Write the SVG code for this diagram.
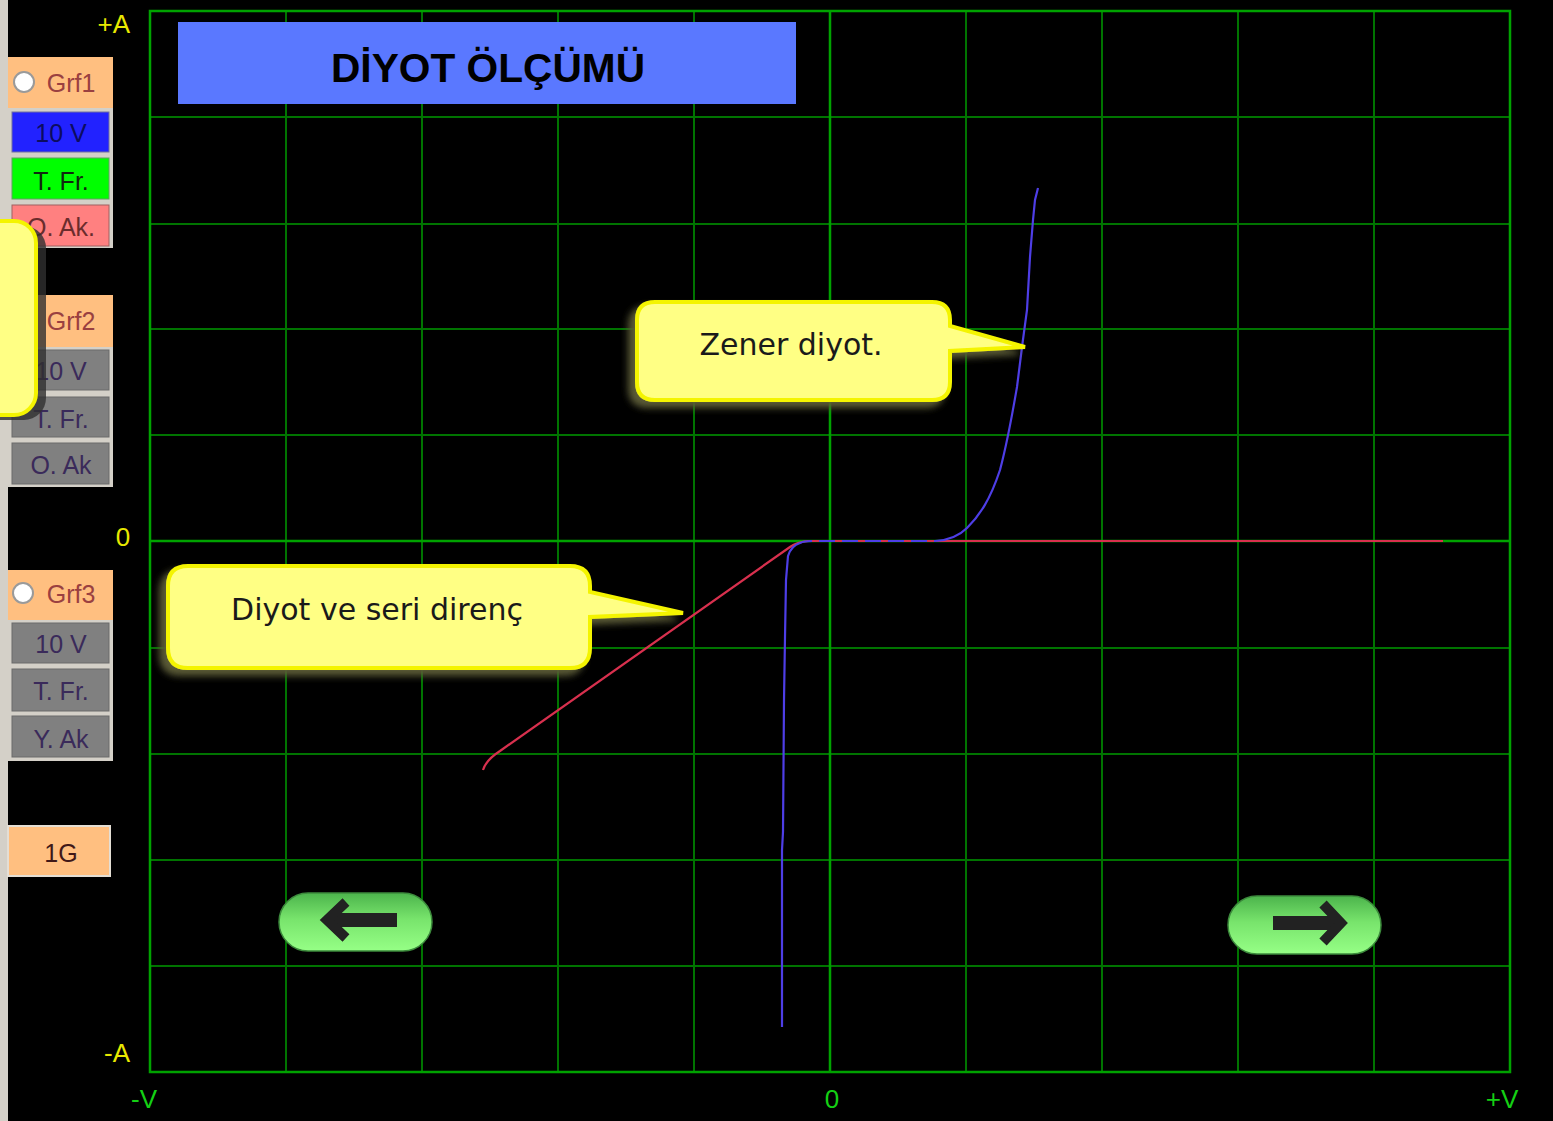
<svg xmlns="http://www.w3.org/2000/svg" width="1553" height="1121" viewBox="0 0 1553 1121">
<style>
.gi{stroke:#007400;stroke-width:2;fill:none}
.gb{stroke:#00a200;stroke-width:2.5;fill:none}
.ya{font-family:"Liberation Sans",Arial,sans-serif;font-size:26px;fill:#e8e800}
.ga{font-family:"Liberation Sans",Arial,sans-serif;font-size:26px;fill:#14d014}
.bt{font-family:"Liberation Sans",Arial,sans-serif;font-size:25px;text-anchor:middle}
.peach{fill:#ffbf80}
.frame{fill:#d4d0c8}
.gray{fill:#808080;stroke:#6a6a6a;stroke-width:1}
.gt{fill:#3a2a5a}
.radio{fill:#ffffff;stroke:#9a9a9a;stroke-width:2}
.call{fill:#ffff84;stroke:#f4f400;stroke-width:4;filter:url(#sh)}
.ct{font-family:"DejaVu Sans",Verdana,sans-serif;font-size:30px;fill:#1a1a1a;text-anchor:middle}
.pill{fill:url(#pg);stroke:#3c8a3c;stroke-width:1.5}
.arr{stroke:#222222;fill:none}
</style>
<defs>
<filter id="sh" x="-15%" y="-25%" width="130%" height="160%">
<feGaussianBlur in="SourceAlpha" stdDeviation="3.5"/>
<feOffset dx="-7" dy="6" result="b"/>
<feFlood flood-color="#5a5a36" flood-opacity="1"/>
<feComposite in2="b" operator="in"/>
<feMerge><feMergeNode/><feMergeNode in="SourceGraphic"/></feMerge>
</filter>
<linearGradient id="pg" x1="0" y1="0" x2="0" y2="1">
<stop offset="0" stop-color="#4cb44c"/>
<stop offset="0.45" stop-color="#78e46c"/>
<stop offset="1" stop-color="#96ff86"/>
</linearGradient>
</defs>
<rect x="0" y="0" width="1553" height="1121" fill="#000000"/>
<rect x="0" y="0" width="8" height="1121" fill="#d4d0c8"/>

<g id="grid">
<path class="gi" d="M286,11V1072M422,11V1072M558,11V1072M694,11V1072M966,11V1072M1102,11V1072M1238,11V1072M1374,11V1072M150,117H1510M150,224H1510M150,329H1510M150,435H1510M150,648H1510M150,754H1510M150,860H1510M150,966H1510"/>
<path class="gb" d="M150,11H1510V1072H150ZM830,11V1072M150,541H1510"/>
</g>

<g id="axis-labels">
<text class="ya" x="130" y="33" text-anchor="end">+A</text>
<text class="ya" x="123" y="546" text-anchor="middle">0</text>
<text class="ya" x="130" y="1062" text-anchor="end">-A</text>
<text class="ga" x="144" y="1108" text-anchor="middle">-V</text>
<text class="ga" x="832" y="1108" text-anchor="middle">0</text>
<text class="ga" x="1502" y="1108" text-anchor="middle">+V</text>
</g>

<g id="title">
<rect x="178" y="22" width="618" height="82" fill="#5a78ff"/>
<text x="488" y="82" text-anchor="middle" font-family="'Liberation Sans',Arial,sans-serif" font-weight="bold" font-size="40" fill="#000000" textLength="314" lengthAdjust="spacingAndGlyphs">DİYOT ÖLÇÜMÜ</text>
</g>

<g id="curves">
<path d="M483,770 Q486,760 500,751 L790,547 Q797,542 808,541 L1443,541" fill="none" stroke="#d8304e" stroke-width="2.2"/>
<path d="M782,1027 L782,850 L783,832 L784,700 L785,637 L786,580 L788,556 Q791,546 800,543 Q804,541 812,541 L935,541 Q955,540 967,528 C980,515 990,500 1000,470 C1008,440 1013,410 1017,387 L1022,347 L1027,310 L1030,257 L1033,220 L1035,200 L1038,188" fill="none" stroke="#4e3ee6" stroke-width="2.2"/>
<path d="M812,541 L935,541" fill="none" stroke="#d8304e" stroke-width="2.2" stroke-dasharray="7 16"/>
</g>

<g id="panel-grf1">
<rect class="peach" x="8" y="57" width="105" height="51"/>
<circle class="radio" cx="24" cy="82" r="10"/>
<text class="bt" x="71" y="92" fill="#9a4040">Grf1</text>
<rect class="frame" x="8" y="108" width="105" height="140"/>
<rect x="12" y="112" width="97" height="40" fill="#2222ff" stroke="#7070a0" stroke-width="1"/>
<text class="bt" x="61" y="142" fill="#0c0c60">10 V</text>
<rect x="12" y="158" width="97" height="41" fill="#00ff00" stroke="#60a060" stroke-width="1"/>
<text class="bt" x="61" y="190" fill="#102810">T. Fr.</text>
<rect x="12" y="205" width="97" height="41" fill="#ff8080" stroke="#a06060" stroke-width="1"/>
<text class="bt" x="61" y="236" fill="#6a2c2c">O. Ak.</text>
</g>

<g id="panel-grf2">
<rect class="peach" x="8" y="295" width="105" height="52"/>
<text class="bt" x="71" y="330" fill="#9a4040">Grf2</text>
<rect class="frame" x="8" y="347" width="105" height="140"/>
<rect class="gray" x="12" y="350" width="97" height="40"/>
<text class="bt gt" x="61" y="380">10 V</text>
<rect class="gray" x="12" y="397" width="97" height="40"/>
<text class="bt gt" x="61" y="428">T. Fr.</text>
<rect class="gray" x="12" y="443" width="97" height="41"/>
<text class="bt gt" x="61" y="474">O. Ak</text>
</g>

<g id="panel-grf3">
<rect class="peach" x="8" y="570" width="105" height="50"/>
<circle class="radio" cx="23" cy="593" r="10"/>
<text class="bt" x="71" y="603" fill="#9a4040">Grf3</text>
<rect class="frame" x="8" y="620" width="105" height="141"/>
<rect class="gray" x="12" y="623" width="97" height="40"/>
<text class="bt gt" x="61" y="653">10 V</text>
<rect class="gray" x="12" y="669" width="97" height="42"/>
<text class="bt gt" x="61" y="700">T. Fr.</text>
<rect class="gray" x="12" y="716" width="97" height="41"/>
<text class="bt gt" x="61" y="748">Y. Ak</text>
</g>

<g id="button-1g">
<rect class="peach" x="8" y="826" width="102" height="50" stroke="#e4ded4" stroke-width="2"/>
<text class="bt" x="61" y="862" fill="#401818">1G</text>
</g>

<g id="callout-left">
<rect x="-40" y="226" width="86" height="194" rx="22" fill="#303030" opacity="0.8"/>
<rect x="-40" y="221" width="76" height="194" rx="22" fill="#ffff84" stroke="#f4f400" stroke-width="4"/>
</g>

<g id="callout-zener">
<path class="call" d="M655,302 H932 Q950,302 950,320 V326 L1025,347 L950,351 V382 Q950,400 932,400 H655 Q637,400 637,382 V320 Q637,302 655,302 Z"/>
<text class="ct" x="791" y="355">Zener diyot.</text>
</g>

<g id="callout-diyot">
<path class="call" d="M188,566 H570 Q590,566 590,586 V592 L683,613 L590,617 V648 Q590,668 570,668 H188 Q168,668 168,648 V586 Q168,566 188,566 Z"/>
<text class="ct" x="377" y="620">Diyot ve seri direnç</text>
</g>

<g id="btn-left">
<rect class="pill" x="279" y="893" width="153" height="58" rx="29"/>
<path class="arr" d="M332,920 H397" stroke-width="14"/>
<path class="arr" d="M346,902 L327,920 L346,938" stroke-width="10"/>
</g>

<g id="btn-right">
<rect class="pill" x="1228" y="896" width="153" height="58" rx="29"/>
<path class="arr" d="M1273,923 H1336" stroke-width="14"/>
<path class="arr" d="M1323,904 L1341,923 L1323,942" stroke-width="10"/>
</g>
</svg>
